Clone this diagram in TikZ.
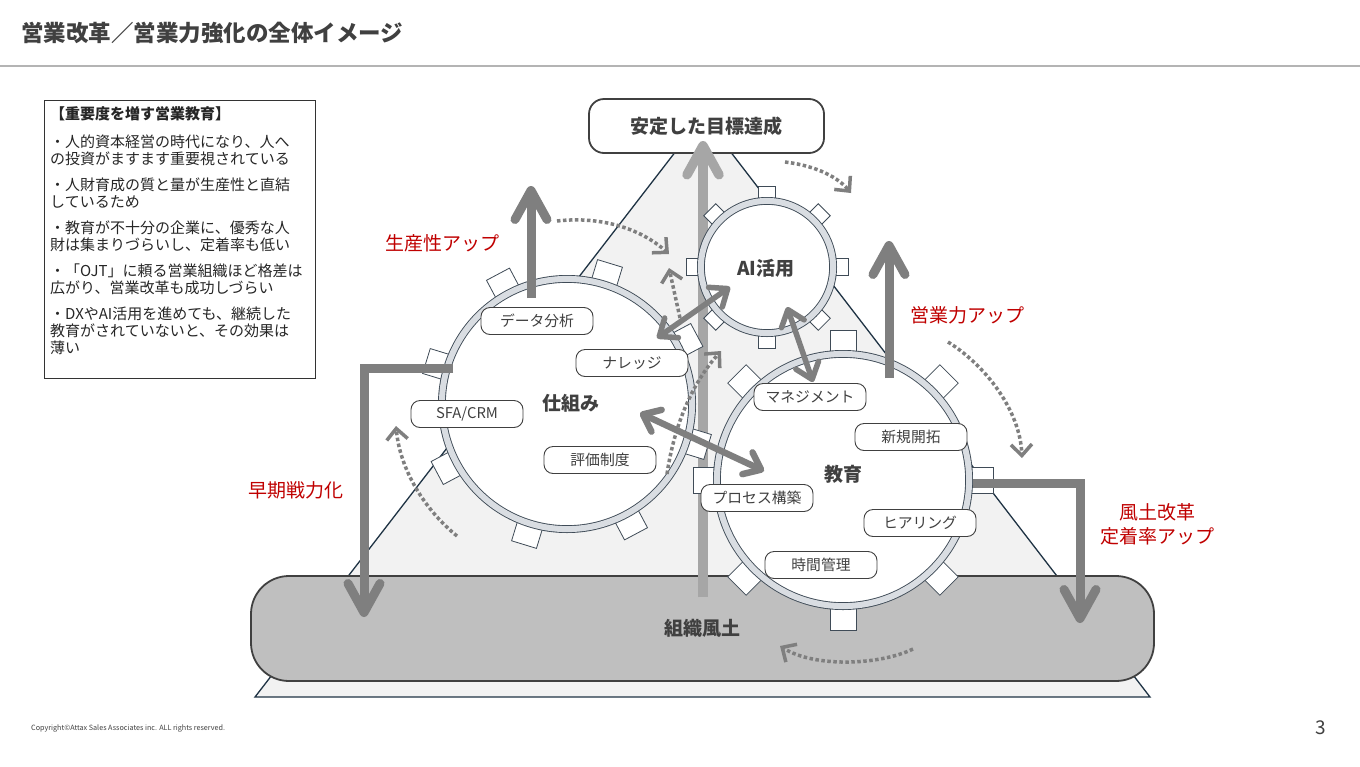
\documentclass[tikz,border=0pt]{standalone}
\usepackage{fontspec}
\setmainfont{Noto Sans CJK JP}
\usetikzlibrary{arrows.meta}
\definecolor{txt}{HTML}{404040}
\definecolor{boxtxt}{HTML}{262626}
\definecolor{redlab}{HTML}{C00000}
\definecolor{arr}{HTML}{7F7F7F}
\definecolor{arrlight}{HTML}{A6A6A6}
\definecolor{trifill}{HTML}{F2F2F2}
\definecolor{triedge}{HTML}{1F3344}
\definecolor{basefill}{HTML}{BFBFBF}
\definecolor{ringfill}{HTML}{D9DDE2}
\definecolor{ringedge}{HTML}{3F4B57}
\definecolor{rulegray}{HTML}{B4B4B4}
\tikzset{
  tooth/.style={draw=ringedge, fill=white, line width=0.8pt},
  gearbody/.style={circle, draw=ringedge, double=ringfill, double distance=6pt, line width=0.9pt, fill=white, inner sep=0pt, minimum size=#1, text=txt, font=\bfseries\fontsize{19}{19}\selectfont},
  tag/.style={draw=txt, line width=0.9pt, rounded corners=9pt, fill=white, minimum width=112pt, minimum height=27pt, inner sep=0pt, text=txt, font=\fontsize{14.8}{14.8}\selectfont},
  redlabel/.style={text=redlab, font=\fontsize{19}{24}\selectfont, align=center, inner sep=0pt},
  bigarrow/.style={draw=arr, line width=9pt, -{Straight Barb[length=29pt,width=32pt,round]}},
  lightarrow/.style={draw=arrlight, line width=9.5pt, -{Straight Barb[length=29pt,width=32pt,round]}},
  twoway/.style={draw=arr, line width=#1, {Straight Barb[length=15pt,width=24pt,round]}-{Straight Barb[length=15pt,width=24pt,round]}},
  dotarrow/.style={draw=arr, line width=3.5pt, dash pattern=on 3.5pt off 2.5pt, -{Straight Barb[length=11pt,width=21pt]}},
}
\newcommand{\gearteeth}[6]{%
  \foreach \a in {0,45,...,315}{%
    \draw[tooth, rotate around={\a+#6:(#1,#2)}] ({#1+#3-6},{#2-#4/2}) rectangle ({#1+#3+#5},{#2+#4/2});
  }%
}
\begin{document}
\begin{tikzpicture}[x=1pt,y=-1pt]
\useasboundingbox (0,0) rectangle (1360,766);
\fill[white] (0,0) rectangle (1360,766);

% title and rule
\node[anchor=west, text=txt, inner sep=0pt, font=\bfseries\fontsize{22.5}{22.5}\selectfont] (title) at (21,33) {営業改革／営業力強化の全体イメージ};
\draw[rulegray, line width=2pt] (0,66) -- (1360,66);

% info box
\node[draw=black!80, line width=0.8pt, anchor=north west, minimum width=271pt, minimum height=278pt, inner sep=0pt] (infobox) at (44,100) {};
\node[anchor=north west, align=left, text=boxtxt, inner sep=0pt, font=\fontsize{15}{17}\selectfont] (infotext) at (50,106) {%
{\bfseries 【重要度を増す営業教育】}\\[11pt]
・人的資本経営の時代になり、人へ\\
の投資がますます重要視されている\\[9pt]
・人財育成の質と量が生産性と直結\\
しているため\\[9pt]
・教育が不十分の企業に、優秀な人\\
財は集まりづらいし、定着率も低い\\[9pt]
・「OJT」に頼る営業組織ほど格差は\\
広がり、営業改革も成功しづらい\\[9pt]
・DXやAI活用を進めても、継続した\\
教育がされていないと、その効果は\\
薄い};

% triangle
\draw[fill=trifill, draw=triedge, line width=1.3pt] (255,697) -- (703,116) -- (1150,697) -- cycle;

% base
\node[draw=txt, line width=1.8pt, fill=basefill, rounded corners=38pt, minimum width=903pt, minimum height=105pt, inner sep=0pt, text=txt, font=\bfseries\fontsize{19}{19}\selectfont] (base) at (702.5,628.5) {組織風土};

% goal box
\node[draw=txt, line width=1.8pt, fill=white, rounded corners=15pt, minimum width=235pt, minimum height=54pt, inner sep=0pt, text=txt, font=\bfseries\fontsize{19}{19}\selectfont] (goal) at (706.5,126) {安定した目標達成};

% big vertical arrow (behind gears)
\coordinate (vs) at (703,597);
\coordinate (ve) at (703,141);
\draw[lightarrow] (vs) -- (ve);

% gears
\gearteeth{567}{404}{129}{26}{18}{28}
\node[gearbody=250.2pt] (shikumi) at (567,404) {};
\gearteeth{843}{480}{130}{26}{20}{0}
\node[gearbody=252.2pt] (kyoiku) at (843,480) {};
\gearteeth{767}{267}{70}{17}{11}{0}
\node[gearbody=132.2pt] (ai) at (767,267) {};

\node[text=txt, font=\bfseries\fontsize{19}{19}\selectfont, inner sep=0pt] (shikumiL) at (571,403) {仕組み};
\node[text=txt, font=\bfseries\fontsize{19}{19}\selectfont, inner sep=0pt] (kyoikuL) at (843,474) {教育};
\node[text=txt, font=\bfseries\fontsize{19}{19}\selectfont, inner sep=0pt] (aiL) at (766,268) {AI活用};

% tags
\node[tag] (t1) at (537,321) {データ分析};
\node[tag] (t2) at (632,363) {ナレッジ};
\node[tag] (t3) at (467,414) {SFA/CRM};
\node[tag] (t4) at (600,460) {評価制度};
\node[tag] (t5) at (810,397) {マネジメント};
\node[tag] (t6) at (911,437) {新規開拓};
\node[tag] (t7) at (757,498) {プロセス構築};
\node[tag] (t8) at (920,523) {ヒアリング};
\node[tag] (t9) at (821,565) {時間管理};

% thick arrows
\coordinate (p1s) at (531,298); \coordinate (p1e) at (531,186);
\draw[bigarrow] (p1s) -- (p1e);
\coordinate (p2s) at (889,378); \coordinate (p2e) at (889,241);
\draw[bigarrow] (p2s) -- (p2e);
\coordinate (e1s) at (453,368); \coordinate (e1e) at (364,617);
\draw[bigarrow] (e1s) -| (e1e);
\coordinate (e2s) at (973,483); \coordinate (e2e) at (1080,623);
\draw[bigarrow] (e2s) -| (e2e);

% two-way arrows
\coordinate (d1a) at (657,338); \coordinate (d1b) at (730,287);
\draw[twoway=5.5pt] (d1a) -- (d1b);
\coordinate (d2a) at (787,307); \coordinate (d2b) at (813,382);
\draw[twoway=5.5pt] (d2a) -- (d2b);
\coordinate (d3a) at (640,413); \coordinate (d3b) at (764,471);
\draw[twoway=6.5pt] (d3a) -- (d3b);

% dotted arrows
\coordinate (ca1) at (557,221); \coordinate (ca2) at (669,254);
\draw[dotarrow] (ca1) .. controls (600,216) and (640,228) .. (ca2);
\coordinate (cb1) at (785,162); \coordinate (cb2) at (851,193);
\draw[dotarrow] (cb1) .. controls (810,165) and (835,174) .. (cb2);
\coordinate (cc1) at (948,342); \coordinate (cc2) at (1022,458);
\draw[dotarrow] (cc1) .. controls (985,365) and (1020,410) .. (cc2);
\coordinate (cd1) at (913,649); \coordinate (cd2) at (780,646);
\draw[dotarrow] (cd1) .. controls (880,665) and (815,668) .. (cd2);
\coordinate (ce1) at (457,536); \coordinate (ce2) at (396,426);
\draw[dotarrow] (ce1) .. controls (425,510) and (400,470) .. (ce2);
\coordinate (cf1) at (680,318); \coordinate (cf2) at (669,268);
\draw[dotarrow] (cf1) -- (cf2);
\coordinate (cg1) at (667,474); \coordinate (cg2) at (721,351);
\draw[dotarrow] (cg1) .. controls (675,420) and (695,380) .. (cg2);

% red labels
\node[redlabel] (lab1) at (442,243) {生産性アップ};
\node[redlabel] (lab2) at (967,315) {営業力アップ};
\node[redlabel] (lab3) at (296,490) {早期戦力化};
\node[redlabel] (lab4) at (1157,524) {風土改革\\定着率アップ};

% footer
\node[anchor=west, inner sep=0pt, text=txt, font=\fontsize{7.2}{7.2}\selectfont] (copy) at (31,729) {Copyright©Attax Sales Associates inc. ALL rights reserved.};
\node[inner sep=0pt, text=txt, font=\fontsize{19}{19}\selectfont] (pageno) at (1321,728) {3};
\end{tikzpicture}
\end{document}
